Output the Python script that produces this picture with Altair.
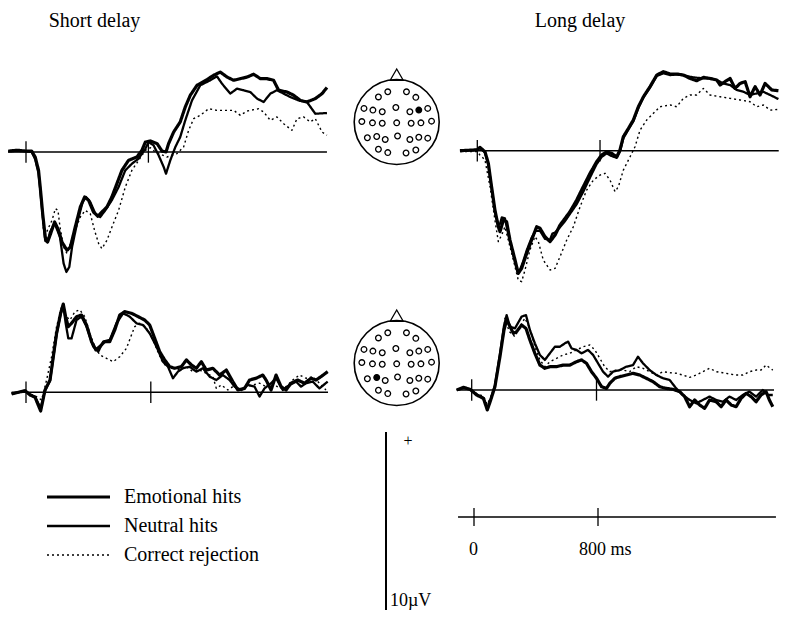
import altair as alt
import pandas as pd

FONT = "Liberation Serif"
CONDITIONS = ["Emotional hits", "Neutral hits", "Correct rejection"]
PANEL_TITLES = ["Short delay", "Long delay"]
TICK_MS = [0, 800]
SCALE_UV = 10
TIME_LABELS = ["0", "800 ms"]

# ---- ERP waveforms: (time in ms, amplitude in µV), positive up ----
short_up_emotional = [
    (-115, 0.05), (-60, 0.1), (0, 0.05), (37, 0.05), (60, -0.28), (82, -1.03), (93, -1.97), (109, -3.46),
    (126, -4.78), (141, -5.06), (157, -4.68), (187, -3.93), (213, -4.4), (235, -5.06), (268, -5.52),
    (290, -5.34), (322, -4.21), (355, -3.09), (383, -2.53), (409, -2.71), (441, -3.37), (470, -3.61),
    (496, -3.37), (529, -3.09), (561, -2.53), (594, -1.78), (627, -1.03), (670, -0.47), (725, -0.28),
    (758, 0.1), (780, 0.56), (813, 0.62), (857, 0.47), (889, 0.05), (915, 0.0), (932, 0.47), (965, 1.12),
    (1008, 1.69), (1041, 2.53), (1074, 3.19), (1118, 3.75), (1183, 4.07), (1226, 4.31), (1270, 4.49),
    (1314, 4.21), (1357, 4.03), (1401, 4.12), (1445, 4.21), (1488, 4.37), (1532, 4.12), (1575, 4.12),
    (1618, 4.03), (1651, 3.47), (1706, 3.37), (1749, 3.19), (1793, 2.9), (1836, 2.81), (1891, 3.0),
    (1935, 3.28), (1967, 3.62)]
short_up_neutral = [
    (-115, 0.05), (0, 0.05), (37, 0.0), (60, -0.4), (82, -1.2), (93, -2.1), (109, -3.6), (126, -5.0),
    (141, -5.06), (157, -4.5), (187, -4.0), (222, -4.78), (246, -6.27), (264, -6.74), (283, -6.46),
    (301, -5.34), (333, -4.03), (370, -2.81), (392, -2.53), (420, -2.81), (453, -3.46), (485, -3.65),
    (518, -3.28), (561, -2.71), (605, -1.97), (649, -1.03), (692, -0.66), (736, -0.37), (780, 0.19),
    (802, 0.56), (834, 0.37), (867, -0.19), (900, -0.84), (915, -1.22), (943, -0.47), (976, 0.28),
    (1008, 0.84), (1041, 1.78), (1085, 2.9), (1139, 3.75), (1205, 4.03), (1248, 4.25), (1281, 3.84),
    (1335, 3.28), (1379, 3.56), (1422, 3.47), (1466, 3.37), (1510, 3.0), (1553, 2.81), (1597, 3.28),
    (1640, 3.47), (1684, 3.28), (1727, 3.09), (1782, 2.9), (1836, 2.81), (1891, 2.15), (1967, 2.19)]
short_up_correct = [
    (-115, 0.05), (0, 0.05), (37, 0.0), (60, -0.3), (82, -1.1), (98, -2.5), (115, -4.4), (130, -4.6),
    (150, -4.2), (170, -3.84), (192, -3.18), (209, -3.28), (222, -4.2), (246, -5.34), (268, -5.7),
    (290, -5.15), (322, -4.4), (355, -3.65), (387, -3.28), (420, -3.46), (448, -4.4), (475, -5.15),
    (496, -5.43), (529, -4.96), (562, -4.21), (605, -3.28), (649, -1.97), (692, -1.03), (736, -0.47),
    (780, 0.09), (813, 0.24), (845, 0.0), (921, -0.28), (987, -0.09), (1030, 0.28), (1063, 1.22),
    (1096, 1.87), (1139, 2.06), (1194, 2.43), (1248, 2.34), (1357, 2.34), (1401, 2.06), (1445, 2.3),
    (1520, 2.43), (1553, 2.25), (1597, 1.78), (1640, 1.97), (1684, 1.59), (1738, 1.22), (1771, 1.87),
    (1814, 1.97), (1858, 1.69), (1891, 1.87), (1935, 1.12), (1967, 0.94)]

long_up_emotional = [
    (-113, 0.0), (0, 0.05), (17, 0.19), (50, -0.06), (72, -0.71), (93, -2.02), (115, -3.33), (137, -4.27),
    (148, -4.55), (170, -3.9), (191, -3.99), (213, -5.02), (246, -6.14), (267, -6.89), (289, -6.61),
    (322, -5.77), (354, -5.02), (387, -4.27), (409, -4.36), (441, -4.83), (474, -5.11), (507, -4.74),
    (539, -4.18), (572, -3.8), (604, -3.43), (648, -2.77), (691, -2.02), (735, -1.27), (778, -0.62),
    (811, -0.24), (843, -0.06), (876, -0.15), (909, -0.34), (930, 0.04), (952, 0.79), (985, 1.25),
    (1017, 1.72), (1050, 2.47), (1083, 3.03), (1126, 3.6), (1170, 4.25), (1213, 4.44), (1257, 4.31),
    (1300, 4.31), (1343, 4.25), (1387, 4.06), (1430, 3.93), (1474, 4.12), (1517, 4.06), (1561, 3.97),
    (1583, 3.69), (1615, 3.88), (1648, 4.06), (1680, 3.5), (1713, 3.78), (1746, 3.88), (1778, 3.03),
    (1811, 3.6), (1843, 3.13), (1876, 3.78), (1920, 3.41), (1963, 3.37)]
long_up_neutral = [
    (-113, 0.0), (0, 0.05), (17, 0.15), (50, -0.1), (72, -0.8), (93, -2.1), (115, -3.45), (137, -4.2),
    (148, -4.1), (160, -3.75), (180, -3.8), (205, -4.8), (235, -5.9), (260, -6.75), (278, -6.7),
    (300, -6.2), (322, -5.6), (354, -4.9), (380, -4.5), (409, -4.5), (441, -4.95), (474, -5.0),
    (490, -4.65), (507, -4.6), (539, -4.3), (572, -3.95), (604, -3.55), (648, -3.0), (691, -2.3),
    (735, -1.5), (778, -0.75), (811, -0.35), (843, -0.15), (876, -0.3), (909, -0.4), (930, -0.05),
    (952, 0.7), (985, 1.2), (1017, 1.65), (1050, 2.4), (1083, 3.0), (1126, 3.55), (1170, 4.2),
    (1213, 4.35), (1257, 4.25), (1300, 4.28), (1343, 4.25), (1387, 4.15), (1430, 4.1), (1474, 4.06),
    (1517, 4.06), (1561, 3.97), (1604, 3.78), (1648, 3.69), (1691, 3.41), (1735, 3.31), (1778, 3.13),
    (1822, 3.22), (1865, 3.31), (1909, 3.13), (1963, 2.9)]
long_up_correct = [
    (-113, -0.05), (0, -0.05), (17, -0.24), (50, -0.52), (83, -2.02), (115, -3.9), (137, -5.11),
    (159, -4.74), (180, -4.27), (202, -5.02), (235, -6.14), (267, -7.27), (289, -7.36), (311, -6.7),
    (343, -5.58), (376, -4.83), (398, -5.11), (430, -6.14), (474, -6.7), (507, -6.61), (539, -5.96),
    (583, -5.02), (626, -4.27), (670, -3.15), (713, -2.21), (757, -1.65), (800, -1.37), (833, -1.27),
    (865, -1.65), (898, -2.3), (920, -2.02), (952, -1.09), (996, -0.34), (1028, 0.22), (1061, 1.16),
    (1104, 1.72), (1148, 2.1), (1191, 2.47), (1257, 2.57), (1300, 2.47), (1343, 2.94), (1387, 3.13),
    (1430, 3.13), (1474, 3.5), (1517, 3.13), (1583, 3.03), (1648, 2.94), (1713, 2.85), (1778, 2.75),
    (1822, 2.47), (1865, 2.57), (1909, 2.28), (1963, 2.32)]

short_low_emotional = [
    (-92, -0.09), (-6, 0.09), (26, -0.15), (58, -0.28), (94, -1.05), (122, 0.13), (154, 0.69), (175, 2.0),
    (196, 3.31), (222, 4.44), (239, 4.96), (254, 4.25), (271, 3.69), (292, 3.88), (324, 4.25), (356, 4.34),
    (388, 3.78), (420, 2.85), (448, 2.38), (473, 2.57), (505, 2.85), (537, 2.85), (569, 3.5), (601, 4.34),
    (633, 4.53), (676, 4.44), (719, 4.25), (761, 4.06), (793, 3.78), (825, 3.03), (857, 2.28), (889, 1.82),
    (921, 1.44), (953, 1.35), (996, 1.44), (1028, 1.82), (1060, 1.54), (1092, 1.35), (1124, 1.72),
    (1156, 1.25), (1198, 1.35), (1241, 0.97), (1284, 1.25), (1326, 0.6), (1358, 0.13), (1401, 0.22),
    (1433, 0.69), (1475, 0.79), (1518, 0.97), (1539, 0.69), (1571, 0.13), (1603, 0.97), (1635, 0.32),
    (1667, 0.13), (1699, 0.51), (1742, 0.69), (1785, 0.51), (1827, 0.79), (1859, 0.69), (1891, 0.88),
    (1934, 1.16)]
short_low_neutral = [
    (-92, -0.09), (-6, 0.09), (26, -0.12), (58, -0.25), (94, -0.9), (122, 0.1), (154, 0.65), (175, 1.95),
    (196, 3.25), (222, 4.4), (239, 4.9), (254, 3.9), (271, 3.03), (292, 3.03), (324, 4.06), (356, 4.25),
    (388, 3.69), (431, 2.57), (463, 2.28), (495, 2.85), (537, 2.94), (580, 3.88), (623, 4.44), (665, 4.25),
    (708, 3.88), (751, 3.78), (793, 3.31), (836, 2.57), (878, 1.72), (910, 1.44), (942, 0.79), (974, 1.16),
    (1006, 1.35), (1049, 1.44), (1092, 1.16), (1134, 1.35), (1177, 0.88), (1220, 0.69), (1262, 0.97),
    (1305, 0.69), (1337, 0.32), (1380, 0.13), (1422, 0.41), (1465, 0.32), (1497, -0.24), (1529, 0.22),
    (1571, 0.51), (1603, 0.79), (1646, 0.13), (1689, 0.41), (1731, 0.6), (1763, 0.32), (1795, 0.51),
    (1838, 0.6), (1881, 0.22), (1934, 0.6)]
short_low_correct = [
    (-92, -0.05), (-6, 0.05), (26, -0.1), (58, -0.2), (100, -0.43), (132, 0.69), (164, 2.0), (196, 3.69),
    (228, 4.81), (250, 4.34), (282, 4.06), (314, 4.53), (345, 4.63), (377, 4.25), (409, 3.31), (441, 2.57),
    (473, 2.1), (516, 1.91), (559, 1.72), (601, 2.0), (644, 2.47), (676, 3.22), (697, 3.69), (729, 3.88),
    (772, 3.6), (804, 3.13), (836, 2.47), (868, 1.82), (900, 1.44), (942, 1.35), (985, 1.25), (1028, 1.44),
    (1070, 1.16), (1113, 1.25), (1156, 1.07), (1198, 0.88), (1220, 0.22), (1252, 0.41), (1294, 0.13),
    (1326, 0.32), (1369, 0.13), (1412, 0.32), (1454, 0.41), (1497, 0.51), (1539, 0.32), (1582, 0.51),
    (1625, 0.22), (1667, 0.32), (1710, 0.69), (1753, 0.97), (1795, 0.79), (1838, 0.88), (1881, 0.51),
    (1923, 0.13)]

long_low_emotional = [
    (-96, 0.0), (-53, 0.15), (-11, 0.04), (32, -0.28), (75, -0.47), (100, -1.12), (122, -0.56), (149, 0.19),
    (181, 1.87), (207, 3.37), (224, 3.93), (241, 3.65), (267, 3.18), (288, 3.28), (320, 3.65), (348, 3.46),
    (373, 2.81), (405, 2.06), (437, 1.4), (469, 1.22), (501, 1.31), (544, 1.31), (586, 1.4), (629, 1.4),
    (672, 1.59), (704, 1.69), (736, 1.5), (768, 1.03), (800, 0.66), (832, 0.19), (864, 0.09), (885, 0.37),
    (917, 0.66), (949, 0.75), (991, 0.84), (1034, 0.94), (1077, 0.84), (1119, 0.66), (1162, 0.47),
    (1205, 0.19), (1247, 0.09), (1290, 0.04), (1333, -0.09), (1365, -0.37), (1397, -0.94), (1429, -0.56),
    (1461, -0.84), (1493, -1.03), (1525, -0.56), (1567, -0.66), (1599, -0.94), (1631, -0.56), (1663, -0.84),
    (1695, -0.94), (1727, -0.47), (1759, -0.19), (1791, -0.37), (1823, -0.66), (1855, -0.28), (1887, -0.09),
    (1908, -0.56), (1930, -0.94)]
long_low_neutral = [
    (-96, 0.0), (-53, 0.12), (-11, 0.04), (32, -0.25), (75, -0.45), (100, -1.05), (122, -0.5), (149, 0.25),
    (181, 2.0), (207, 3.6), (224, 4.21), (245, 3.56), (277, 3.46), (320, 4.12), (348, 4.21), (373, 3.37),
    (405, 2.62), (437, 1.97), (469, 1.69), (501, 2.06), (533, 2.43), (565, 2.43), (597, 2.62), (618, 2.72),
    (640, 2.34), (672, 2.25), (704, 2.06), (746, 2.25), (778, 1.97), (810, 1.5), (842, 1.03), (874, 0.75),
    (906, 1.03), (949, 1.12), (991, 1.31), (1034, 1.4), (1066, 1.87), (1098, 1.5), (1141, 1.12),
    (1184, 0.84), (1226, 0.66), (1269, 0.56), (1311, 0.09), (1354, -0.28), (1397, -0.56), (1439, -0.75),
    (1482, -0.56), (1525, -0.37), (1567, -0.56), (1610, -0.66), (1652, -0.37), (1695, -0.56), (1738, -0.28),
    (1780, -0.09), (1823, -0.37), (1866, 0.0), (1898, -0.28), (1930, -0.28)]
long_low_correct = [
    (-96, 0.0), (-53, 0.1), (-11, 0.0), (32, -0.2), (75, -0.35), (100, -0.8), (122, -0.4), (149, 0.3),
    (181, 2.0), (207, 3.4), (213, 4.03), (241, 3.28), (277, 3.0), (309, 3.56), (341, 4.03), (373, 3.46),
    (405, 2.43), (437, 1.69), (469, 1.31), (501, 1.59), (544, 1.78), (586, 1.97), (629, 2.06), (672, 2.25),
    (714, 2.43), (757, 2.53), (789, 2.25), (821, 1.78), (853, 1.31), (885, 1.03), (928, 1.12), (970, 1.12),
    (1013, 1.03), (1055, 1.31), (1098, 1.22), (1141, 1.03), (1184, 0.84), (1226, 1.03), (1269, 0.97),
    (1311, 0.94), (1354, 0.84), (1397, 0.71), (1439, 0.84), (1482, 1.03), (1525, 1.22), (1567, 1.03),
    (1610, 0.97), (1652, 0.9), (1695, 0.84), (1738, 0.84), (1780, 1.03), (1823, 1.12), (1855, 1.12),
    (1887, 1.4), (1930, 1.12)]

# ---- electrode montage (normalised head radius = 1, nose up) ----
ELEC_X = [-0.43, -0.21, 0.23, 0.45,
          -0.77, -0.56, -0.34, -0.02, 0.31, 0.52, 0.73,
          -0.82, -0.57, -0.34, 0.0, 0.34, 0.57, 0.82,
          -0.69, -0.47, -0.27, 0.02, 0.31, 0.52, 0.73,
          -0.43, -0.21, 0.22, 0.45]
ELEC_Y = [0.59, 0.71, 0.71, 0.58,
          0.32, 0.28, 0.24, 0.34, 0.24, 0.28, 0.32,
          0.01, -0.02, -0.03, -0.02, -0.03, -0.02, 0.02,
          -0.37, -0.34, -0.41, -0.33, -0.41, -0.36, -0.38,
          -0.64, -0.72, -0.73, -0.66]
SELECTED = [9, 19]   # upper row site, lower row site

# ---- layout (page pixels) ----
PX0, PY0, W, H = 8, 8, 784, 616
PX_PER_UV = 17.8

WIDTH_SCALE = alt.Scale(domain=CONDITIONS, range=[3.2, 1.4, 2.2])
DASH_SCALE = alt.Scale(domain=CONDITIONS, range=[[1, 0], [1, 0], [2, 3]])


def dom_x(x0, kx):
    return [(PX0 - x0) / kx, (PX0 + W - x0) / kx]


def dom_y(y0, ky):
    return [(y0 - PY0 - H) / ky, (y0 - PY0) / ky]


def erp_panel(series, x0, kx, y0, span):
    xs = alt.Scale(domain=dom_x(x0, kx), nice=False, zero=False)
    ys = alt.Scale(domain=dom_y(y0, PX_PER_UV), nice=False, zero=False)
    rows = []
    for cond, pts in reversed(list(zip(CONDITIONS, series))):
        rows += [{"t": t, "v": v, "cond": cond} for t, v in pts]
    df = pd.DataFrame(rows)
    X = alt.X("t:Q", scale=xs, axis=None)
    Y = alt.Y("v:Q", scale=ys, axis=None)
    lines = alt.Chart(df).mark_line(color="black", strokeJoin="round").encode(
        x=X, y=Y,
        detail="cond:N",
        strokeWidth=alt.StrokeWidth("cond:N", scale=WIDTH_SCALE, legend=None),
        strokeDash=alt.StrokeDash("cond:N", scale=DASH_SCALE, legend=None),
    )
    base = alt.Chart(pd.DataFrame({"t": [span[0]], "t2": [span[1]], "v": [0]})).mark_rule(
        color="black", strokeWidth=1.5).encode(x=X, x2="t2:Q", y=Y)
    ticks = alt.Chart(pd.DataFrame({"t": TICK_MS, "v": [-0.6] * len(TICK_MS), "v2": [0.6] * len(TICK_MS)})).mark_rule(
        color="black", strokeWidth=1.3).encode(x=X, y=Y, y2="v2:Q")
    return alt.layer(base, ticks, lines)


def head(cx, cy, sel, r=42.5):
    xs = alt.Scale(domain=dom_x(cx, r), nice=False, zero=False)
    ys = alt.Scale(domain=dom_y(cy, r), nice=False, zero=False)
    X = alt.X("x:Q", scale=xs, axis=None)
    Y = alt.Y("y:Q", scale=ys, axis=None)
    nose = alt.Chart(pd.DataFrame({"x": [0], "y": [1.115]})).mark_point(
        shape="triangle-up", size=169, filled=True, fill="white", stroke="black",
        strokeWidth=1.3, opacity=1).encode(x=X, y=Y)
    outline = alt.Chart(pd.DataFrame({"x": [0], "y": [0]})).mark_point(
        shape="circle", size=(2 * r) ** 2, filled=False, color="black",
        strokeWidth=1.6, opacity=1).encode(x=X, y=Y)
    edf = pd.DataFrame({"x": ELEC_X, "y": ELEC_Y, "sel": [i == sel for i in range(len(ELEC_X))]})
    elec = alt.Chart(edf).mark_point(shape="circle", size=32, filled=True, stroke="black",
                                     strokeWidth=1.3, opacity=1).encode(
        x=X, y=Y, fill=alt.condition("datum.sel", alt.value("black"), alt.value("white")))
    return alt.layer(nose, outline, elec)


panels = [
    erp_panel([short_up_emotional, short_up_neutral, short_up_correct], 26, 0.153, 152, (-118, 1967)),
    erp_panel([long_up_emotional, long_up_neutral, long_up_correct], 477.3, 0.1534, 150.7, (-113, 1965)),
    erp_panel([short_low_emotional, short_low_neutral, short_low_correct], 26, 0.156, 392.3, (-92, 1936)),
    erp_panel([long_low_emotional, long_low_neutral, long_low_correct], 471.7, 0.156, 390, (-96, 1938)),
]
heads = [head(396.7, 122, SELECTED[0]), head(396.7, 363, SELECTED[1])]

# legend (drawn with the same width / dash scales as the waveforms)
LY = alt.Y("cond:N", scale=alt.Scale(type="point", domain=CONDITIONS, range=[489, 547], padding=0), axis=None)
leg_df = pd.DataFrame({"cond": CONDITIONS})
leg_lines = alt.Chart(leg_df).mark_rule(color="black").encode(
    x=alt.value(39), x2=alt.value(102), y=LY,
    strokeWidth=alt.StrokeWidth("cond:N", scale=WIDTH_SCALE, legend=None),
    strokeDash=alt.StrokeDash("cond:N", scale=DASH_SCALE, legend=None))
leg_text = alt.Chart(leg_df).mark_text(
    font=FONT, fontSize=20, align="left", baseline="middle", color="black").encode(
    x=alt.value(116), y=LY, text="cond:N")
legend = alt.layer(leg_lines, leg_text)

# scale bar (µV)
sb_y = alt.Scale(domain=dom_y(610, PX_PER_UV), nice=False, zero=False)
sb_rule = alt.Chart(pd.DataFrame({"v": [0], "v2": [SCALE_UV]})).mark_rule(color="black", strokeWidth=2).encode(
    x=alt.value(378), y=alt.Y("v:Q", scale=sb_y, axis=None), y2="v2:Q")
sb_plus = alt.Chart(pd.DataFrame({"v": [SCALE_UV - 0.5], "lab": ["+"]})).mark_text(
    font=FONT, fontSize=16, align="center", baseline="middle", color="black").encode(
    x=alt.value(400), y=alt.Y("v:Q", scale=sb_y, axis=None), text="lab:N")
sb_unit = alt.Chart(pd.DataFrame({"v": [0.0], "lab": [f"{SCALE_UV}\u00b5V"]})).mark_text(
    font=FONT, fontSize=18, align="left", baseline="bottom", color="black").encode(
    x=alt.value(382), y=alt.Y("v:Q", scale=sb_y, axis=None), text="lab:N")
scalebar = alt.layer(sb_rule, sb_plus, sb_unit)

# time axis (ms)
ta_x = alt.Scale(domain=dom_x(474, 0.155), nice=False, zero=False)
TX = alt.X("t:Q", scale=ta_x, axis=None)
ta_line = alt.Chart(pd.DataFrame({"t": [-103], "t2": [1948]})).mark_rule(color="black", strokeWidth=1.5).encode(
    x=TX, x2="t2:Q", y=alt.value(509))
ta_ticks = alt.Chart(pd.DataFrame({"t": TICK_MS})).mark_rule(color="black", strokeWidth=1.3).encode(
    x=TX, y=alt.value(500), y2=alt.value(518))
ta_label0 = alt.Chart(pd.DataFrame({"t": [TICK_MS[0]], "lab": [TIME_LABELS[0]]})).mark_text(
    font=FONT, fontSize=18, align="left", baseline="alphabetic", color="black", dx=-5).encode(
    x=TX, y=alt.value(547), text="lab:N")
ta_label1 = alt.Chart(pd.DataFrame({"t": [TICK_MS[1]], "lab": [TIME_LABELS[1]]})).mark_text(
    font=FONT, fontSize=18, align="left", baseline="alphabetic", color="black", dx=-19).encode(
    x=TX, y=alt.value(547), text="lab:N")
timeaxis = alt.layer(ta_line, ta_ticks, ta_label0, ta_label1)

titles = [
    alt.Chart(pd.DataFrame({"lab": [PANEL_TITLES[0]]})).mark_text(
        font=FONT, fontSize=20, align="center", baseline="alphabetic", color="black").encode(
        x=alt.value(86.5), y=alt.value(19), text="lab:N"),
    alt.Chart(pd.DataFrame({"lab": [PANEL_TITLES[1]]})).mark_text(
        font=FONT, fontSize=20, align="center", baseline="alphabetic", color="black").encode(
        x=alt.value(572), y=alt.value(19), text="lab:N"),
]

chart = alt.layer(*panels, *heads, legend, scalebar, timeaxis, *titles).resolve_scale(
    x="independent", y="independent"
).properties(
    width=W, height=H, padding=0, autosize=alt.AutoSizeParams(type="none"), background="white"
).configure_view(stroke=None)

chart.save("out.html", embed_options={"renderer": "svg", "actions": False})
